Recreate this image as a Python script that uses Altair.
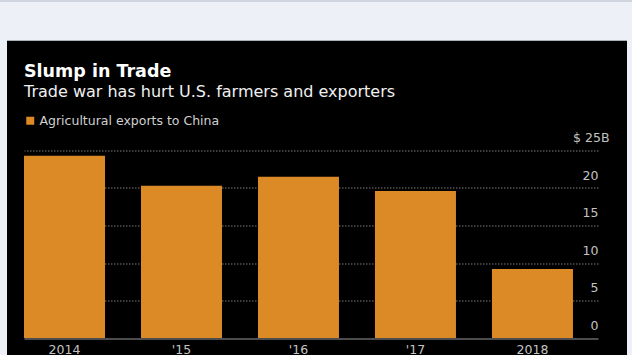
import altair as alt
import pandas as pd

# ---- data ----
years = ["2014", "'15", "'16", "'17", "2018"]
exports = [24.3, 20.3, 21.5, 19.6, 9.2]   # $ billions
series_name = "Agricultural exports to China"
y_ticks = [0, 5, 10, 15, 20, 25]

df = pd.DataFrame({"year": years, "value": exports, "series": [series_name] * len(years)})
one = pd.DataFrame({"k": [0]})

FONT = "DejaVu Sans"
ORANGE = "#dc8a26"
PAGE = "#edf1f7"
LABEL = "#c4c4c4"

# ---- decorative page frame (outside the plot area) ----
top_strip = alt.Chart(one).mark_rect(color=PAGE).encode(
    x=alt.value(-24), x2=alt.value(610), y=alt.value(-150.5), y2=alt.value(-110))
left_strip = alt.Chart(one).mark_rect(color=PAGE).encode(
    x=alt.value(-24), x2=alt.value(-17), y=alt.value(-150.5), y2=alt.value(220))
right_strip = alt.Chart(one).mark_rect(color=PAGE).encode(
    x=alt.value(603), x2=alt.value(610), y=alt.value(-150.5), y2=alt.value(220))
top_line = alt.Chart(one).mark_rule(color="#c3cbd6", strokeWidth=1.5).encode(
    x=alt.value(-24), x2=alt.value(610), y=alt.value(-149.5))
panel_edge = alt.Chart(one).mark_rule(color="#a9b1bb", strokeWidth=1).encode(
    x=alt.value(-17), x2=alt.value(603), y=alt.value(-110))

# ---- bars ----
bars = alt.Chart(df).mark_bar().encode(
    x=alt.X("year:N", sort=years,
            scale=alt.Scale(paddingInner=0.3077, paddingOuter=0.107, align=0),
            axis=alt.Axis(title=None, domain=False, ticks=False, labelAngle=0,
                          labelColor=LABEL, labelFont=FONT, labelFontSize=12.5,
                          labelPadding=5, labelBaseline="top")),
    y=alt.Y("value:Q", scale=alt.Scale(domain=[0, 25], nice=False),
            axis=alt.Axis(orient="right", values=y_ticks, title=None, domain=False,
                          ticks=False,
                          labelExpr="datum.value == 25 ? '$ 25B' : datum.label",
                          labelAlign="right", labelBaseline="alphabetic", labelOffset=-9,
                          labelPadding={"condition": {"test": "datum.value == 25", "value": 11},
                                        "value": 0},
                          labelColor=LABEL, labelFont=FONT, labelFontSize=12.5,
                          grid=True,
                          gridColor={"condition": {"test": "datum.value == 0", "value": "#9a9a9a"},
                                     "value": "#7a7a7a"},
                          gridDash={"condition": {"test": "datum.value == 0", "value": []},
                                    "value": [1.5, 1.5]},
                          gridWidth=1)),
    color=alt.Color("series:N", scale=alt.Scale(range=[ORANGE]),
                    legend=alt.Legend(title=None, orient="none", legendX=0, legendY=-36,
                                      symbolType="square", symbolSize=64, symbolStrokeWidth=0,
                                      labelColor="#d0d0d0", labelFont=FONT, labelFontSize=12.5,
                                      labelOffset=3, labelLimit=0, padding=0)),
)

chart = alt.layer(top_strip, left_strip, right_strip, top_line, panel_edge, bars).properties(
    width=574,
    height=187.5,
    autosize=alt.AutoSizeParams(type="none"),
    padding={"left": 24, "top": 150.5, "right": 34, "bottom": 17},
    background="#000000",
    title=alt.TitleParams(
        text="Slump in Trade",
        subtitle="Trade war has hurt U.S. farmers and exporters",
        anchor="start", frame="group",
        font=FONT, fontSize=17.5, fontWeight="bold", color="#ffffff",
        subtitleFont=FONT, subtitleFontSize=16, subtitleColor="#f0f0f0",
        subtitlePadding=4, offset=-100,
    ),
).configure_view(stroke=None)

chart.save("out.html", embed_options={"renderer": "svg", "actions": False})
